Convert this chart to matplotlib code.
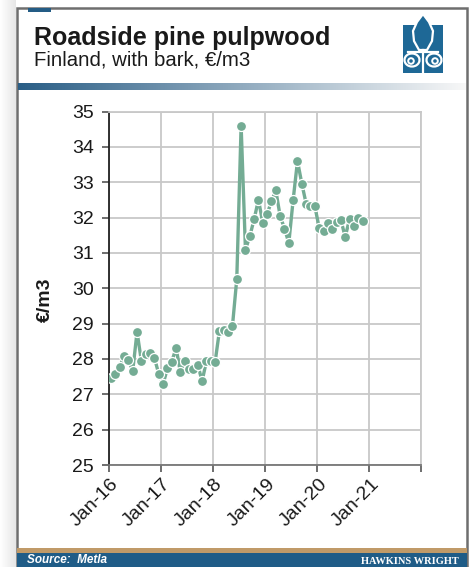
import numpy as np
import matplotlib.pyplot as plt
from matplotlib.patches import Rectangle, Polygon, Circle, Arc
from matplotlib.transforms import ScaledTranslation, blended_transform_factory

plt.rcParams["font.family"] = ["Liberation Sans", "DejaVu Sans"]

# Monthly roadside pine pulpwood price, Jan-16 .. Nov-20
prices = [
    27.47, 27.57, 27.78, 28.08, 27.97, 27.66, 28.77, 27.94, 28.15, 28.17, 28.03, 27.58,
    27.29, 27.73, 27.92, 28.31, 27.62, 27.95, 27.71, 27.71, 27.84, 27.37, 27.94, 27.94,
    27.91, 28.80, 28.82, 28.75, 28.93, 30.26, 34.60, 31.09, 31.47, 31.95, 32.51, 31.84,
    32.10, 32.46, 32.77, 32.04, 31.69, 31.28, 32.50, 33.60, 32.96, 32.39, 32.32, 32.32,
    31.71, 31.62, 31.85, 31.67, 31.86, 31.94, 31.45, 31.95, 31.77, 32.00, 31.89,
]
year_labels = ["Jan-16", "Jan-17", "Jan-18", "Jan-19", "Jan-20", "Jan-21"]
y_ticks = list(range(25, 36))

LINE = "#74ac94"
NAVY = "#245c85"
GRID = "#c8c8c8"

W, H = 470, 567
fig = plt.figure(figsize=(W / 100, H / 100), dpi=100)

# background layer in pixel coordinates (origin top-left)
bg = fig.add_axes([0, 0, 1, 1], zorder=0)
bg.axis("off")

# soft shadow left of the card
shade = np.linspace(1.0, 0.90, 64).reshape(1, -1)
bg.imshow(shade, extent=(0, 16, H, 0), cmap="gray", vmin=0, vmax=1, aspect="auto")

# card frame
bg.add_patch(Rectangle((17, 8), 450, 570, facecolor="white", edgecolor="#6e6e6e", lw=1.8))
bg.add_patch(Rectangle((28, 8), 23, 4, facecolor=NAVY, edgecolor="none"))

# title block
bg.text(34, 45, "Roadside pine pulpwood", fontsize=18, fontweight="bold",
        color="#1a1a1a", va="baseline")
bg.text(34, 66, "Finland, with bark, \u20ac/m3", fontsize=14.7, color="#1a1a1a",
        va="baseline")

# gradient rule under the header
grad = np.linspace(0, 1, 256)
navy = np.array([0x2a, 0x5e, 0x86]) / 255
light = np.array([0.97, 0.97, 0.97])
rule = (navy[None, :] * (1 - grad[:, None]) + light[None, :] * grad[:, None])[None, :, :]
bg.imshow(rule, extent=(18, 466, 90, 83), aspect="auto", zorder=2)

# logo: fleur-de-lis on a blue square
LOGO = "#1e6896"
cx = 423
bg.add_patch(Rectangle((403, 25), 40, 48, facecolor=LOGO, edgecolor="none"))
petal = Polygon([(cx, 14), (cx + 6, 22), (cx + 10, 31), (cx + 9, 41), (cx + 4, 50),
                 (cx - 4, 50), (cx - 9, 41), (cx - 10, 31), (cx - 6, 22)],
                closed=True, facecolor=LOGO, edgecolor="white", lw=1.6)
bg.add_patch(petal)
bg.plot([cx - 15, cx + 15], [52, 52], color="white", lw=1.6)
for side in (-1, 1):
    bx = cx + side * 11
    bg.add_patch(Arc((bx, 60), 15, 13, theta1=0, theta2=360, color="white", lw=1.6))
    bg.add_patch(Circle((bx + side * 1, 61), 2.8, facecolor="none",
                        edgecolor="white", lw=1.4))
bg.plot([cx, cx], [50, 72], color="white", lw=1.6)

# footer bars
bg.add_patch(Rectangle((17, 548), 450, 5, facecolor="#c09a68", edgecolor="none"))
bg.add_patch(Rectangle((17, 553), 450, 20, facecolor="#1f5c87", edgecolor="none"))
bg.text(27, 566, "Source:  Metla", fontsize=8.5, fontweight="bold", style="italic",
        color="white", va="bottom")
bg.text(459, 566, "HAWKINS WRIGHT", fontsize=7.5, fontweight="bold",
        family=["Liberation Serif", "DejaVu Serif"], color="white", va="bottom",
        ha="right")

# limits last: imshow autoscales the view
bg.set_xlim(0, W)
bg.set_ylim(H, 0)

# chart area
ax = fig.add_axes([109.3 / W, 1 - 465 / H, (421.5 - 109.3) / W, (465 - 111.5) / H],
                  zorder=1)
months = np.arange(len(prices)) + 0.4
ax.plot(months, prices, color=LINE, lw=2.4, marker="o", markersize=7.2,
        markerfacecolor=LINE, markeredgecolor="white", markeredgewidth=0.9,
        solid_joinstyle="round", zorder=3)

ax.set_xlim(0, 72)
ax.set_ylim(25, 35)
ax.set_yticks(y_ticks)
year_ticks = np.arange(0, 73, 12)
ax.set_xticks(year_ticks)
ax.set_xticklabels([])

# rotated year labels, anchored just below-right of each tick
lbl_tf = blended_transform_factory(ax.transData, ax.transAxes) + \
    ScaledTranslation(5 / 72, -12 / 72, fig.dpi_scale_trans)
for xt, lab in zip(year_ticks, year_labels):
    ax.text(xt, 0, lab, transform=lbl_tf, rotation=45, rotation_mode="anchor",
            ha="right", va="center", fontsize=14, color="#1a1a1a", clip_on=False)

ax.tick_params(axis="y", labelsize=14, colors="#1a1a1a", length=5, width=1.2,
               direction="out", pad=6)
ax.tick_params(axis="x", length=5, width=1.2, direction="out", color="#555555")
ax.tick_params(axis="y", color="#555555")

ax.grid(True, color=GRID, lw=1.3)
ax.set_axisbelow(True)
for name in ("top", "right"):
    ax.spines[name].set_color(GRID)
    ax.spines[name].set_linewidth(1.3)
ax.spines["left"].set_color("#222222")
ax.spines["left"].set_linewidth(1.3)
ax.spines["bottom"].set_color("#777777")
ax.spines["bottom"].set_linewidth(1.3)

fig.text(45 / W, 1 - 300 / H, "\u20ac/m3", rotation=90, fontsize=14,
         fontweight="bold", ha="center", va="center", color="#1a1a1a")

fig.savefig("out.png", dpi=100)
